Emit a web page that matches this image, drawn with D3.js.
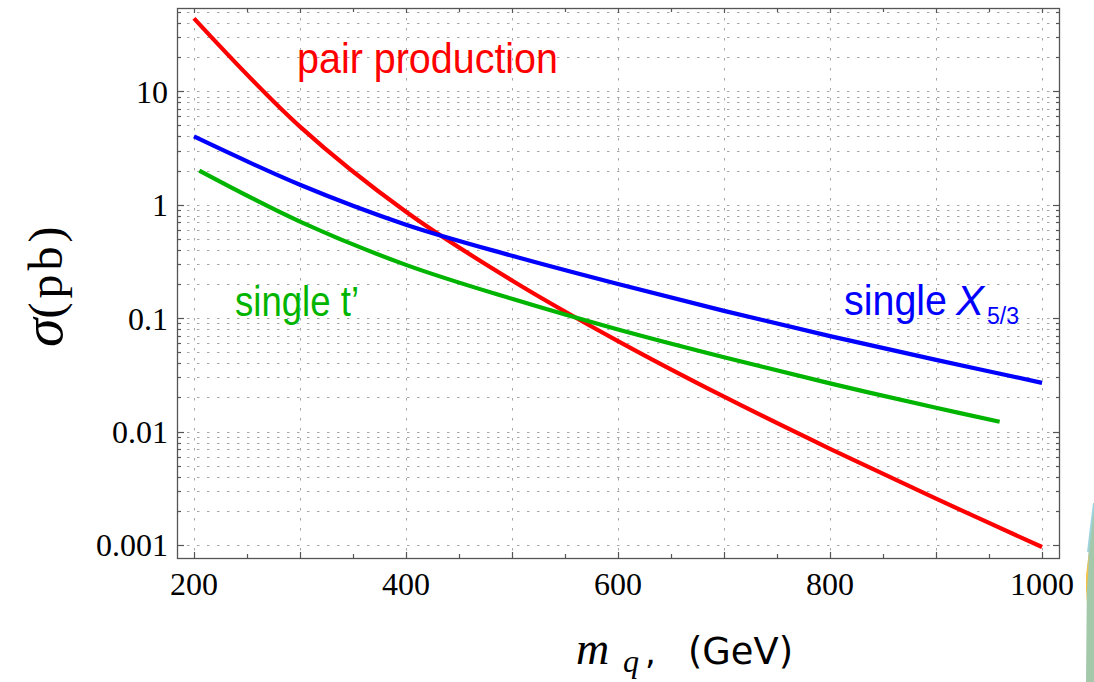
<!DOCTYPE html>
<html><head><meta charset="utf-8">
<script src="https://cdn.jsdelivr.net/npm/d3@7"></script>
<style>html,body{margin:0;padding:0;background:#fff;} svg{display:block}</style>
</head><body>
<svg id="c" width="1094" height="682"></svg>
<script>
// ---- data ----
const massPair  = [200, 300, 400, 500, 600, 700, 800, 900, 1000];
const sigmaPair = [44, 4.88, 0.867, 0.215, 0.0628, 0.0203, 0.00705, 0.00256, 0.00096];

const massX53  = [200, 300, 400, 500, 600, 700, 800, 900, 1000];
const sigmaX53 = [4.0, 1.5, 0.667, 0.355, 0.2, 0.116, 0.0695, 0.0429, 0.0269];

const massTp  = [205, 300, 400, 500, 600, 700, 800, 900, 960];
const sigmaTp = [2.0, 0.71, 0.295, 0.148, 0.0794, 0.0452, 0.0266, 0.0162, 0.0122];

const xTickValues = [200, 400, 600, 800, 1000];
const xTickLabels = ["200", "400", "600", "800", "1000"];
const yTickValues = [0.001, 0.01, 0.1, 1, 10];
const yTickLabels = ["0.001", "0.01", "0.1", "1", "10"];

const seriesNames = ["pair production", "single t\u2019", "single X"];

// ---- layout ----
const L = 177, R = 1059, T = 8, B = 558;
const svg = d3.select("#c");
const x = d3.scaleLinear().domain([184, 1016]).range([L, R]);
const y = d3.scaleLog().domain([7.68e-4, 54.3]).range([B, T]);

const serif = "'Liberation Serif','Times New Roman',serif";
const sans = "'Liberation Sans',Arial,Helvetica,sans-serif";

// minor values per decade within the range
const yMinor = [];
for (let e = -3; e <= 1; e++) for (let m = 1; m <= 9; m++) {
  const v = m * Math.pow(10, e);
  if (v >= 0.001 && v <= 50.0001) yMinor.push(v);
}
const xGrid = d3.range(200, 1001, 100);
const xTicks50 = d3.range(200, 1001, 50);

// grid
const grid = svg.append("g").attr("stroke", "#a6a6a6").attr("stroke-width", 1)
  .attr("stroke-dasharray", "2.5,7.5").attr("fill", "none");
grid.selectAll("line.h").data(yMinor).join("line").attr("class", "h")
  .attr("x1", L).attr("x2", R).attr("y1", d => Math.round(y(d)) + 0.5).attr("y2", d => Math.round(y(d)) + 0.5);
grid.selectAll("line.v").data(xGrid).join("line").attr("class", "v")
  .attr("y1", T).attr("y2", B).attr("x1", d => Math.round(x(d)) + 0.5).attr("x2", d => Math.round(x(d)) + 0.5);

// curves
const line = d3.line().x(d => x(d[0])).y(d => y(d[1])).curve(d3.curveCatmullRom.alpha(0.5));
const curves = [
  {m: massPair, s: sigmaPair, c: "#ff0000"},
  {m: massX53, s: sigmaX53, c: "#0000ff"},
  {m: massTp, s: sigmaTp, c: "#00b400"}
];
svg.append("g").selectAll("path").data(curves).join("path")
  .attr("d", d => line(d.m.map((v, i) => [v, d.s[i]])))
  .attr("fill", "none").attr("stroke", d => d.c).attr("stroke-width", 4.2)
  .attr("stroke-linejoin", "round");

// frame
const frameCol = "#555";
svg.append("rect").attr("x", L + 0.5).attr("y", T + 0.5).attr("width", R - L).attr("height", B - T)
  .attr("fill", "none").attr("stroke", frameCol).attr("stroke-width", 1.3);

// ticks (inward)
const isMajorY = v => yTickValues.some(t => Math.abs(t - v) / t < 1e-6);
const ax = svg.append("g").attr("stroke", frameCol).attr("stroke-width", 1.2);
ax.selectAll("line.yl").data(yMinor).join("line")
  .attr("x1", L).attr("x2", d => L + (isMajorY(d) ? 7 : 4))
  .attr("y1", d => Math.round(y(d)) + 0.5).attr("y2", d => Math.round(y(d)) + 0.5);
ax.selectAll("line.yr").data(yMinor).join("line")
  .attr("x1", R + 1).attr("x2", d => R + 1 - (isMajorY(d) ? 7 : 4))
  .attr("y1", d => Math.round(y(d)) + 0.5).attr("y2", d => Math.round(y(d)) + 0.5);
ax.selectAll("line.xb").data(xTicks50).join("line")
  .attr("y1", B + 1).attr("y2", d => B + 1 - (d % 100 === 0 ? 7 : 5))
  .attr("x1", d => Math.round(x(d)) + 0.5).attr("x2", d => Math.round(x(d)) + 0.5);
ax.selectAll("line.xt").data(xTicks50).join("line")
  .attr("y1", T).attr("y2", d => T + (d % 100 === 0 ? 5 : 4))
  .attr("x1", d => Math.round(x(d)) + 0.5).attr("x2", d => Math.round(x(d)) + 0.5);

// tick labels
svg.append("g").selectAll("text").data(xTickValues).join("text")
  .attr("x", d => x(d)).attr("y", 595).attr("text-anchor", "middle")
  .attr("font-family", serif).attr("font-size", 32).attr("fill", "#000")
  .text((d, i) => xTickLabels[i]);
svg.append("g").selectAll("text").data(yTickValues).join("text")
  .attr("x", 168).attr("y", d => y(d) + 11.5).attr("text-anchor", "end")
  .attr("font-family", serif).attr("font-size", 32).attr("fill", "#000")
  .text((d, i) => yTickLabels[i]);

// series labels
svg.append("text").attr("x", 297).attr("y", 73).attr("font-family", sans).attr("font-size", 42)
  .attr("fill", "#ff0000").attr("textLength", 261).attr("lengthAdjust", "spacingAndGlyphs").text(seriesNames[0]);
svg.append("text").attr("x", 235).attr("y", 316).attr("font-family", sans).attr("font-size", 42)
  .attr("fill", "#00b400").attr("textLength", 124).attr("lengthAdjust", "spacingAndGlyphs").text(seriesNames[1]);
const tx = svg.append("text").attr("x", 844).attr("y", 315).attr("font-family", sans).attr("font-size", 42).attr("fill", "#0000ff");
tx.append("tspan").attr("textLength", 103).attr("lengthAdjust", "spacingAndGlyphs").text("single");
tx.append("tspan").attr("x", 956).attr("font-style", "italic").text("X");
tx.append("tspan").attr("x", 987).attr("y", 324).attr("font-size", 23).text("5/3");

// axis titles
const xt = svg.append("text").attr("y", 664).attr("fill", "#000");
xt.append("tspan").attr("x", 576).attr("font-family", serif).attr("font-style", "italic").attr("font-size", 46).text("m");
xt.append("tspan").attr("x", 623).attr("dy", 8).attr("font-family", serif).attr("font-style", "italic").attr("font-size", 32).text("q");
xt.append("tspan").attr("x", 645).attr("dy", -8).attr("font-family", "'DejaVu Sans',sans-serif").attr("font-size", 34).text(",");
xt.append("tspan").attr("x", 688).attr("font-family", "'DejaVu Sans',sans-serif").attr("font-size", 37)
  .attr("textLength", 105).attr("lengthAdjust", "spacingAndGlyphs").text("(GeV)");

const yt = svg.append("text").attr("transform", "translate(62,347) rotate(-90)").attr("fill", "#000").attr("font-family", serif);
yt.append("tspan").attr("font-style", "italic").attr("font-size", 58).text("\u03c3");
yt.append("tspan").attr("font-size", 48).attr("letter-spacing", 4).text("(pb)");

// decorative sliver at right edge (slide background)
svg.append("path").attr("d", "M1094,503 L1090,535 L1087,570 L1086,682 L1094,682 Z").attr("fill", "#a4c8aa");
svg.append("path").attr("d", "M1094,503 L1090,535 L1088,552").attr("stroke", "#9fd3dc").attr("stroke-width", 2).attr("fill", "none");
svg.append("path").attr("d", "M1089,553 L1086,575 L1086,603 L1088,575 Z").attr("fill", "#f3c24c");
</script>
</body></html>
